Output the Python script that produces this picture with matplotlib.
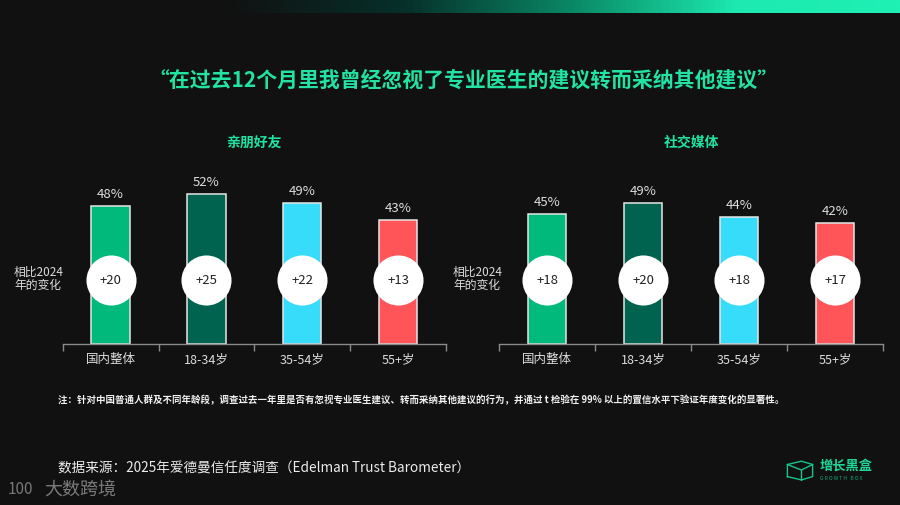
import numpy as np
import matplotlib
matplotlib.use("Agg")
import matplotlib.pyplot as plt
from matplotlib.colors import LinearSegmentedColormap

plt.rcParams['font.family'] = ['Noto Sans CJK SC', 'DejaVu Sans']

# data
groups = ["国内整体", "18-34岁", "35-54岁", "55+岁"]
friends_pct = [48, 52, 49, 43]
friends_change = [20, 25, 22, 13]
social_pct = [45, 49, 44, 42]
social_change = [18, 20, 18, 17]
panel_titles = ["亲朋好友", "社交媒体"]
bar_colors = ["#00b97b", "#00634f", "#38dcfb", "#ff5458"]

BG = "#111111"
GREEN = "#22e3a3"
W, H = 900, 506

fig = plt.figure(figsize=(9, 5.06), dpi=100, facecolor=BG)

def fx(px):
    return px / W

def fy(py):
    return 1 - py / H

# gradient strip at the top
gax = fig.add_axes([0, fy(14), 1, 14 / H])
cmap = LinearSegmentedColormap.from_list(
    "strip", [(0, BG), (0.25, BG), (0.45, "#06302a"), (0.64, "#0a8a66"), (0.82, "#1de9b0"), (1, "#1ff0b4")])
gax.imshow(np.linspace(0, 1, 400).reshape(1, -1), aspect="auto", cmap=cmap, extent=[0, 1, 0, 1])
gax.axis("off")

fig.text(fx(463), fy(80), "“在过去12个月里我曾经忽视了专业医生的建议转而采纳其他建议”",
         ha="center", va="center", fontsize=15, fontweight="bold", color=GREEN)

scale = 2.88  # px per percent
top_pct = 60
panels = [(62.7, 446.0, friends_pct, friends_change), (499.3, 883.3, social_pct, social_change)]

for (x0, x1, pct, chg), title in zip(panels, panel_titles):
    ax = fig.add_axes([fx(x0), fy(345), fx(x1 - x0), top_pct * scale / H])
    ax.set_facecolor("none")
    x = np.arange(len(groups))
    ax.bar(x, pct, width=0.4, color=bar_colors, edgecolor="#e6e6e6", linewidth=1.1, zorder=2)
    for xi, p in zip(x, pct):
        ax.annotate(f"{p}%", (xi, p), xytext=(0, 4.5), textcoords="offset points",
                    ha="center", va="bottom", fontsize=9.5, color="#dddddd")
    cy = (345 - 281) / scale
    ax.scatter(x, [cy] * len(x), s=1300, color="white", zorder=3, linewidths=0)
    for xi, c in zip(x, chg):
        ax.text(xi, cy, f"+{c}", ha="center", va="center", fontsize=9.5, color="#222222", zorder=4)
    ax.set_xlim(-0.5, len(groups) - 0.5)
    ax.set_ylim(0, top_pct)
    for s in ["top", "right", "left"]:
        ax.spines[s].set_visible(False)
    ax.spines["bottom"].set_color("#8a8a8a")
    ax.spines["bottom"].set_linewidth(1.0)
    ax.set_yticks([])
    ax.set_xticks(x)
    ax.set_xticklabels(groups, fontsize=9, color="#dddddd")
    ax.tick_params(axis="x", which="major", length=0, pad=6)
    ax.set_xticks(np.arange(-0.5, len(groups)), minor=True)
    ax.tick_params(axis="x", which="minor", length=5, color="#8a8a8a", width=1.0)
    fig.text(fx((x0 + x1) / 2), fy(143), title, ha="center", va="center",
             fontsize=10, fontweight="bold", color=GREEN)

for lx in [14, 453]:
    fig.text(fx(lx), fy(279), "相比2024\n年的变化", ha="left", va="center",
             fontsize=8.5, color="#dddddd", linespacing=1.05)

fig.text(fx(58), fy(400),
         "注：针对中国普通人群及不同年龄段，调查过去一年里是否有忽视专业医生建议、转而采纳其他建议的行为，并通过 t 检验在 99% 以上的置信水平下验证年度变化的显著性。",
         ha="left", va="center", fontsize=6.8, color="#f0f0f0", fontweight="bold")

fig.text(fx(58), fy(468), "数据来源：2025年爱德曼信任度调查（Edelman Trust Barometer）",
         ha="left", va="center", fontsize=9.8, color="#ececec", style="italic", fontweight="medium")

# watermark bottom-left
fig.text(fx(8), fy(490), "100", ha="left", va="center", fontsize=11, color="#777777", fontweight="light")
fig.text(fx(44), fy(490), "大数跨境", ha="left", va="center", fontsize=13, color="#7a7a7a")

# logo bottom-right
lax = fig.add_axes([fx(786), fy(482), fx(28), 22 / H])
lax.axis("off")
lax.set_xlim(0, 1)
lax.set_ylim(0, 1)
lax.plot([0.05, 0.05, 0.55, 0.95, 0.95, 0.55, 0.05], [0.2, 0.75, 0.9, 0.75, 0.2, 0.05, 0.2],
         color="#18c48c", lw=1.0)
lax.plot([0.05, 0.55, 0.95], [0.75, 0.5, 0.75], color="#18c48c", lw=1.0)
lax.plot([0.55, 0.55], [0.5, 0.05], color="#18c48c", lw=1.0)
fig.text(fx(820), fy(466), "增长黑盒", ha="left", va="center", fontsize=9.5, fontweight="bold", color="#1fd69a")
fig.text(fx(820), fy(479), "G R O W T H   B O X", ha="left", va="center", fontsize=3.6, color="#14a779")

fig.savefig("out.png", dpi=100, facecolor=BG)
